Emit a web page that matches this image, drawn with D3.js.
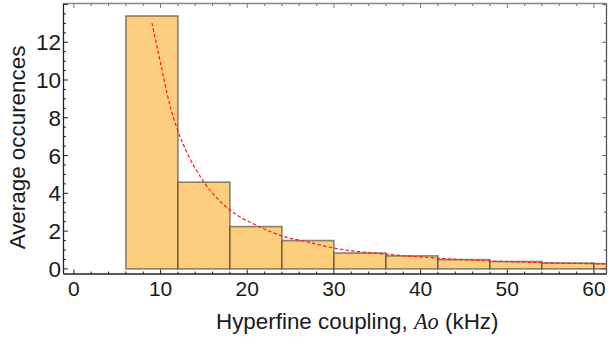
<!DOCTYPE html>
<html><head><meta charset="utf-8">
<script src="https://cdn.jsdelivr.net/npm/d3@7"></script>
<style>body{margin:0;background:#fff}svg{display:block}</style>
</head><body>
<svg id="c" width="608" height="337"></svg>
<script>
const binStarts = [6, 12, 18, 24, 30, 36, 42, 48, 54, 60];
const binWidth = 6;
const barValues = [13.39, 4.59, 2.24, 1.50, 0.84, 0.69, 0.49, 0.39, 0.31, 0.28];
const fitX = [9, 10, 11, 12, 13, 15, 18, 21, 24, 27, 30, 36, 42, 48, 54, 61.5];
const fitY = [13.03, 10.9, 8.8, 7.3, 6.2, 4.6, 3.12, 2.32, 1.75, 1.42, 1.10, 0.78, 0.57, 0.42, 0.33, 0.26];
const xTicks = [0, 10, 20, 30, 40, 50, 60];
const yTicks = [0, 2, 4, 6, 8, 10, 12];
const xTitle = "Hyperfine coupling, ";
const xTitleVar = "Ao";
const xTitleUnit = " (kHz)";
const yTitle = "Average occurences";

const svg = d3.select("#c");
const L = 63.5, R = 606.5, T = 3.5, B = 274;
const x = d3.scaleLinear().domain([-1.2, 61.45]).range([L, R]);
const y = d3.scaleLinear().domain([-0.27, 14.05]).range([B, T]);

svg.append("defs").append("clipPath").attr("id", "clip")
  .append("rect").attr("x", L).attr("y", T).attr("width", R - L).attr("height", B - T);

const g = svg.append("g").attr("clip-path", "url(#clip)");
g.selectAll("rect.bar").data(binStarts).enter().append("rect")
  .attr("x", d => x(d)).attr("width", d => x(d + binWidth) - x(d))
  .attr("y", (d, i) => y(barValues[i])).attr("height", (d, i) => y(0) - y(barValues[i]))
  .attr("fill", "#fcce7e").attr("stroke", "#3a3a3a").attr("stroke-opacity", 0.6).attr("stroke-width", 1.6);

const line = d3.line().x((d, i) => x(fitX[i])).y((d, i) => y(fitY[i])).curve(d3.curveMonotoneX);
g.append("path").attr("d", line(fitX)).attr("fill", "none")
  .attr("stroke", "#ff1a1a").attr("stroke-width", 1.2).attr("stroke-dasharray", "3.5,2.2");

// frame
const frame = svg.append("g");
frame.append("line").attr("x1", L).attr("x2", R).attr("y1", T).attr("y2", T).attr("stroke", "#888").attr("stroke-width", 1.3);
frame.append("line").attr("x1", R).attr("x2", R).attr("y1", T).attr("y2", B).attr("stroke", "#555").attr("stroke-width", 1.3);
frame.append("line").attr("x1", L).attr("x2", L).attr("y1", T).attr("y2", B).attr("stroke", "#222").attr("stroke-width", 1.3);
frame.append("line").attr("x1", L).attr("x2", R).attr("y1", B).attr("y2", B).attr("stroke", "#222").attr("stroke-width", 1.3);

// ticks
const xMinor = d3.range(0, 62, 2);
xMinor.forEach(v => {
  const major = v % 10 === 0;
  const len = major ? 4.5 : 2.5;
  frame.append("line").attr("x1", x(v)).attr("x2", x(v)).attr("y1", B).attr("y2", B - len).attr("stroke", "#222").attr("stroke-width", 1);
  frame.append("line").attr("x1", x(v)).attr("x2", x(v)).attr("y1", T).attr("y2", T + len).attr("stroke", "#777").attr("stroke-width", 1);
});
d3.range(0, 14.01, 0.5).forEach(v => {
  const major = v % 2 === 0;
  const len = major ? 4.5 : 2.5;
  frame.append("line").attr("x1", L).attr("x2", L + len).attr("y1", y(v)).attr("y2", y(v)).attr("stroke", "#222").attr("stroke-width", 1);
});
d3.range(0, 14.01, 1).forEach(v => {
  const len = v % 2 === 0 ? 4 : 2.5;
  frame.append("line").attr("x1", R).attr("x2", R - len).attr("y1", y(v)).attr("y2", y(v)).attr("stroke", "#555").attr("stroke-width", 1);
});

const font = "'Liberation Sans', Arial, sans-serif";
svg.selectAll("text.xt").data(xTicks).enter().append("text")
  .attr("x", d => x(d)).attr("y", 296).attr("text-anchor", "middle")
  .attr("font-family", font).attr("font-size", 21).attr("fill", "#1a1a1a").text(d => d);
svg.selectAll("text.yt").data(yTicks).enter().append("text")
  .attr("x", 61).attr("y", d => y(d) + 8).attr("text-anchor", "end")
  .attr("font-family", font).attr("font-size", 22.5).attr("fill", "#1a1a1a").text(d => d);

const xt = svg.append("text").attr("x", 216).attr("y", 328.5)
  .attr("font-family", font).attr("font-size", 22.4).attr("fill", "#1a1a1a");
xt.append("tspan").text(xTitle);
xt.append("tspan").attr("font-family", "'Liberation Serif', 'Times New Roman', serif").attr("font-style", "italic").text(xTitleVar);
xt.append("tspan").text(xTitleUnit);

svg.append("text").attr("transform", "translate(24.5,147.5) rotate(-90)")
  .attr("text-anchor", "middle").attr("font-family", font).attr("font-size", 22.4).attr("fill", "#1a1a1a").text(yTitle);
</script>
</body></html>
